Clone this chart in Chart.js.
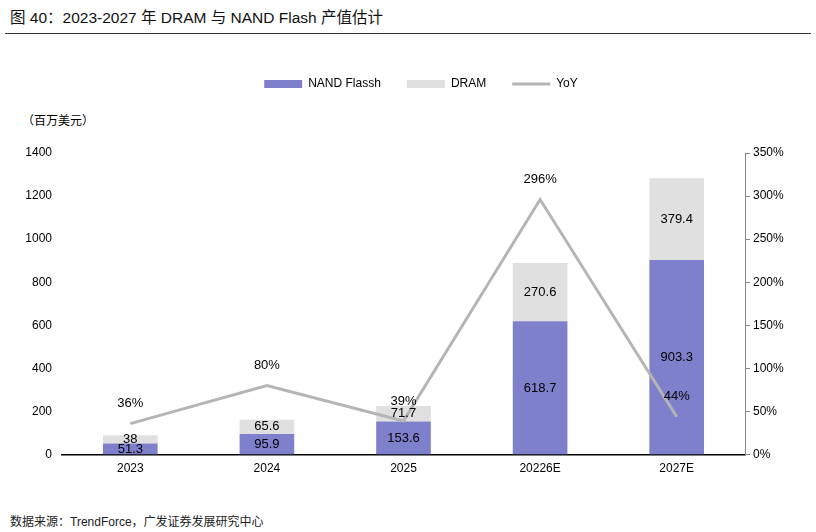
<!DOCTYPE html>
<html>
<head>
<meta charset="utf-8">
<script src="https://cdn.jsdelivr.net/npm/chart.js@4.4.1/dist/chart.umd.min.js"></script>
<style>
  body { margin: 0; width: 816px; height: 532px; background: #fff; font-family: "Liberation Sans", Arial, "Noto Sans CJK SC", sans-serif; position: relative; overflow: hidden; }
  #title { position: absolute; left: 10px; top: 5px; font-size: 15.5px; color: #111; }
  #rule { position: absolute; left: 5px; top: 33px; width: 806px; height: 0; border-top: 1.5px solid #333; }
  #unit { position: absolute; left: 22px; top: 111px; font-size: 12px; color: #000; }
  #source { position: absolute; left: 10px; top: 512px; font-size: 12px; color: #222; }
  #wrap { position: absolute; left: 0; top: 40px; width: 816px; height: 460px; }
</style>
</head>
<body>
<div id="title">图&nbsp;40：2023-2027 年 DRAM 与 NAND Flash 产值估计</div>
<div id="rule"></div>
<div id="unit">（百万美元）</div>
<div id="wrap"><canvas id="chart"></canvas></div>
<div id="source">数据来源：TrendForce，广发证券发展研究中心</div>
<script>
const years = ['2023', '2024', '2025', '20226E', '2027E'];
const nand = [51.3, 95.9, 153.6, 618.7, 903.3];
const dram = [38, 65.6, 71.7, 270.6, 379.4];
const yoy = [36, 80, 39, 296, 44];

const FONT = '"Liberation Sans", Arial, sans-serif';

// value labels on bars and the YoY line
const labelPlugin = {
  id: 'valueLabels',
  afterDatasetsDraw(chart) {
    const ctx = chart.ctx;
    ctx.save();
    ctx.font = '13px ' + FONT;
    ctx.fillStyle = '#000';
    ctx.textAlign = 'center';
    ctx.textBaseline = 'middle';
    chart.data.datasets.forEach((ds, i) => {
      const meta = chart.getDatasetMeta(i);
      meta.data.forEach((el, j) => {
        if (ds.type === 'line') {
          ctx.fillText(ds.data[j] + '%', el.x, el.y - 20);
        } else {
          ctx.fillText(String(ds.data[j]), el.x, (el.y + el.base) / 2);
        }
      });
    });
    ctx.restore();
  }
};

// extra room under the legend
const legendGap = {
  id: 'legendGap',
  beforeInit(chart) {
    const fit = chart.legend.fit;
    chart.legend.fit = function () {
      fit.bind(chart.legend)();
      this.height += 53;
    };
  }
};

new Chart(document.getElementById('chart'), {
  type: 'bar',
  data: {
    labels: years,
    datasets: [
      { label: 'NAND Flassh', data: nand, backgroundColor: '#7f80cb', borderWidth: 0, pointStyle: 'rect', order: 1, yAxisID: 'y' },
      { label: 'DRAM', data: dram, backgroundColor: '#e0e0e0', borderWidth: 0, pointStyle: 'rect', order: 1, yAxisID: 'y' },
      { type: 'line', label: 'YoY', data: yoy, borderColor: '#b5b5b5', backgroundColor: '#b5b5b5', borderWidth: 3, pointRadius: 0, pointStyle: 'line', tension: 0, order: 0, yAxisID: 'y1' }
    ]
  },
  options: {
    responsive: true,
    maintainAspectRatio: false,
    animation: false,
    barPercentage: 0.4,
    categoryPercentage: 1,
    layout: { padding: { top: 12, bottom: 17, left: 26, right: 0 } },
    plugins: {
      tooltip: { enabled: false },
      legend: {
        position: 'top',
        labels: {
          usePointStyle: true,
          pointStyleWidth: 38,
          boxHeight: 8,
          padding: 26,
          color: '#000',
          font: { size: 12, family: FONT },
          sort: (a, b) => a.datasetIndex - b.datasetIndex
        }
      }
    },
    scales: {
      x: {
        stacked: true,
        grid: { display: false, drawTicks: false },
        border: { color: '#000', width: 1.5 },
        ticks: { color: '#000', font: { size: 12, family: FONT }, padding: 7 }
      },
      y: {
        stacked: true,
        min: 0,
        max: 1400,
        grid: { display: false, drawTicks: false },
        border: { display: false },
        ticks: { stepSize: 200, color: '#000', font: { size: 12, family: FONT }, padding: 10, callback: v => String(v) },
        afterFit(scale) { scale.width = 36; }
      },
      y1: {
        position: 'right',
        min: 0,
        max: 350,
        grid: { drawOnChartArea: false, drawTicks: true, tickLength: 5, color: '#888' },
        border: { color: '#888', width: 1 },
        ticks: { stepSize: 50, color: '#000', font: { size: 12, family: FONT }, padding: 3, callback: v => v + '%' },
        afterFit(scale) { scale.width = 71; }
      }
    }
  },
  plugins: [labelPlugin, legendGap]
});
</script>
</body>
</html>
